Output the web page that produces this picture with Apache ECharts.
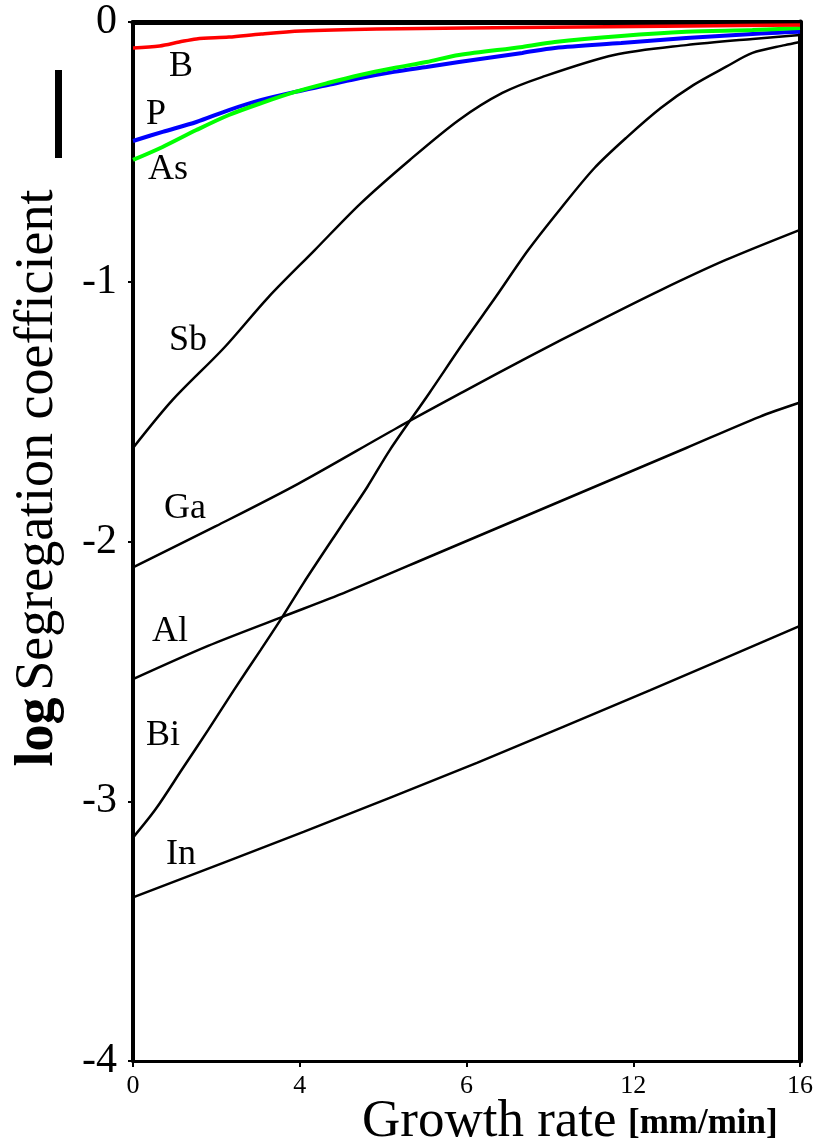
<!DOCTYPE html>
<html>
<head>
<meta charset="utf-8">
<script src="https://cdn.jsdelivr.net/npm/echarts@6/dist/echarts.min.js"></script>
<style>
  html, body { margin: 0; padding: 0; background: #fff; }
  #chart { width: 816px; height: 1144px; }
</style>
</head>
<body>
<div id="chart"></div>
<script>
// Growth rate [mm/min] vs log segregation coefficient, one curve per dopant
const xTicks = [0, 4, 8, 12, 16];
const xTickLabels = ['0', '4', '6', '12', '16'];
const yTicks = [0, -1, -2, -3, -4];

const elemB = [[0, -0.100], [0.64, -0.092], [1.11, -0.077], [1.52, -0.065], [2.30, -0.058], [3.08, -0.046], [4.03, -0.035], [5.85, -0.027], [8.0, -0.023], [13.4, -0.015], [16, -0.012]];
const elemP = [[0, -0.458], [0.71, -0.423], [1.52, -0.385], [2.30, -0.339], [3.08, -0.300], [3.89, -0.269], [4.67, -0.243], [5.45, -0.216], [6.26, -0.192], [7.04, -0.173], [7.82, -0.154], [9.34, -0.119], [10.12, -0.100], [11.71, -0.081], [13.27, -0.062], [14.86, -0.046], [16, -0.038]];
const elemAs = [[0, -0.531], [0.71, -0.481], [1.52, -0.416], [2.30, -0.358], [3.08, -0.312], [3.89, -0.269], [4.67, -0.235], [5.45, -0.204], [6.26, -0.177], [7.04, -0.154], [7.82, -0.127], [9.34, -0.096], [10.12, -0.077], [11.71, -0.054], [13.27, -0.038], [14.86, -0.031], [16, -0.023]];
const elemSb = [[0, -1.64], [0.95, -1.455], [2.18, -1.255], [3.25, -1.059], [4.36, -0.878], [5.45, -0.70], [6.64, -0.531], [7.82, -0.377], [8.86, -0.273], [9.81, -0.212], [11.54, -0.127], [13.27, -0.089], [14.86, -0.065], [16, -0.05]];
const elemBi = [[0, -3.14], [0.545, -3.03], [1.185, -2.875], [1.80, -2.726], [2.42, -2.572], [3.06, -2.418], [3.58, -2.291], [4.09, -2.16], [4.98, -1.944], [5.62, -1.79], [6.16, -1.648], [7.11, -1.428], [7.92, -1.236], [8.70, -1.059], [9.48, -0.878], [10.29, -0.712], [11.07, -0.562], [11.85, -0.443], [12.66, -0.331], [13.44, -0.243], [14.22, -0.173], [14.86, -0.119], [15.64, -0.089], [16, -0.077]];
const elemGa = [[0, -2.10], [2, -1.94], [3.96, -1.778], [6.33, -1.563], [7.92, -1.424], [9.48, -1.29], [11.07, -1.159], [12.66, -1.032], [14.22, -0.916], [16, -0.80]];
const elemAl = [[0, -2.53], [1.80, -2.402], [3.57, -2.291], [5.12, -2.194], [7.21, -2.052], [13.27, -1.64], [15.03, -1.52], [16, -1.465]];
const elemIn = [[0, -3.37], [4.09, -3.118], [8.25, -2.852], [12.41, -2.572], [16, -2.325]];

const serif = '"Liberation Serif", "DejaVu Serif", serif';

function curve(name, data, color, width) {
  return {
    name: name,
    type: 'line',
    data: data,
    smooth: 0.3,
    symbol: 'none',
    lineStyle: { color: color, width: width },
    z: 3
  };
}

function tag(text, x, y) {
  return {
    type: 'text', x: x, y: y, z: 10,
    style: {
      text: text, font: '36px ' + serif, fill: '#000',
      align: 'center', verticalAlign: 'middle',
      textAlign: 'center', textVerticalAlign: 'middle'
    }
  };
}

const chart = echarts.init(document.getElementById('chart'), null, { renderer: 'canvas' });

chart.setOption({
  backgroundColor: '#fff',
  animation: false,
  grid: { left: 133, right: 8, top: 22, bottom: 83, containLabel: false },
  xAxis: [{
    type: 'value', min: 0, max: 16, interval: 4, position: 'bottom',
    axisLine: { show: true, onZero: false, lineStyle: { color: '#000', width: 3 } },
    axisTick: { show: true, inside: false, length: 6, lineStyle: { color: '#000', width: 2 } },
    axisLabel: {
      margin: 12, color: '#000', fontFamily: serif, fontSize: 26,
      formatter: function (v) { const i = xTicks.indexOf(v); return i >= 0 ? xTickLabels[i] : ''; }
    },
    splitLine: { show: false }
  }, {
    type: 'value', min: 0, max: 16, interval: 4, position: 'top',
    axisLine: { show: true, onZero: false, lineStyle: { color: '#000', width: 5 } },
    axisTick: { show: false }, axisLabel: { show: false }, splitLine: { show: false }
  }],
  yAxis: [{
    type: 'value', min: -4, max: 0, interval: 1, position: 'left',
    axisLine: { show: true, onZero: false, lineStyle: { color: '#000', width: 4 } },
    axisTick: { show: true, length: 5, lineStyle: { color: '#000', width: 2 } },
    axisLabel: {
      margin: 16, color: '#000', fontFamily: serif, fontSize: 42,
      formatter: function (v) { return yTicks.indexOf(v) >= 0 ? String(v) : ''; }
    },
    splitLine: { show: false }
  }, {
    type: 'value', min: -4, max: 0, interval: 1, position: 'right',
    axisLine: { show: true, onZero: false, lineStyle: { color: '#000', width: 5 } },
    axisTick: { show: false }, axisLabel: { show: false }, splitLine: { show: false }
  }],
  series: [
    curve('Sb', elemSb, '#000', 2.5),
    curve('Bi', elemBi, '#000', 2.5),
    curve('Ga', elemGa, '#000', 2.5),
    curve('Al', elemAl, '#000', 2.5),
    curve('In', elemIn, '#000', 2.5),
    curve('P', elemP, '#0000ff', 4),
    curve('As', elemAs, '#00ff00', 4),
    curve('B', elemB, '#ff0000', 3.5)
  ],
  graphic: [
    tag('B', 181, 67),
    tag('P', 156, 115),
    tag('As', 168, 170),
    tag('Sb', 188, 341),
    tag('Ga', 185, 509),
    tag('Al', 170, 632),
    tag('Bi', 163, 736),
    tag('In', 181, 855),
    {
      type: 'text', x: 38, y: 478, rotation: Math.PI / 2, z: 10,
      style: {
        text: '{a|log}  {b|Segregation coefficient}',
        align: 'center', verticalAlign: 'middle',
        textAlign: 'center', textVerticalAlign: 'middle',
        fill: '#000',
        rich: {
          a: { font: 'bold 54px ' + serif, fill: '#000' },
          b: { font: '54px ' + serif, fill: '#000' }
        }
      }
    },
    {
      type: 'text', x: 362, y: 1122, z: 10,
      style: {
        text: 'Growth rate', font: '53px ' + serif, fill: '#000',
        align: 'left', verticalAlign: 'middle',
        textAlign: 'left', textVerticalAlign: 'middle'
      }
    },
    {
      type: 'text', x: 628, y: 1124, z: 10,
      style: {
        text: '[mm/min]', font: 'bold 35px ' + serif, fill: '#000',
        align: 'left', verticalAlign: 'middle',
        textAlign: 'left', textVerticalAlign: 'middle'
      }
    },
    {
      type: 'rect', z: 10,
      shape: { x: 55, y: 70, width: 7, height: 88 },
      style: { fill: '#000' }
    }
  ]
});
</script>
</body>
</html>
